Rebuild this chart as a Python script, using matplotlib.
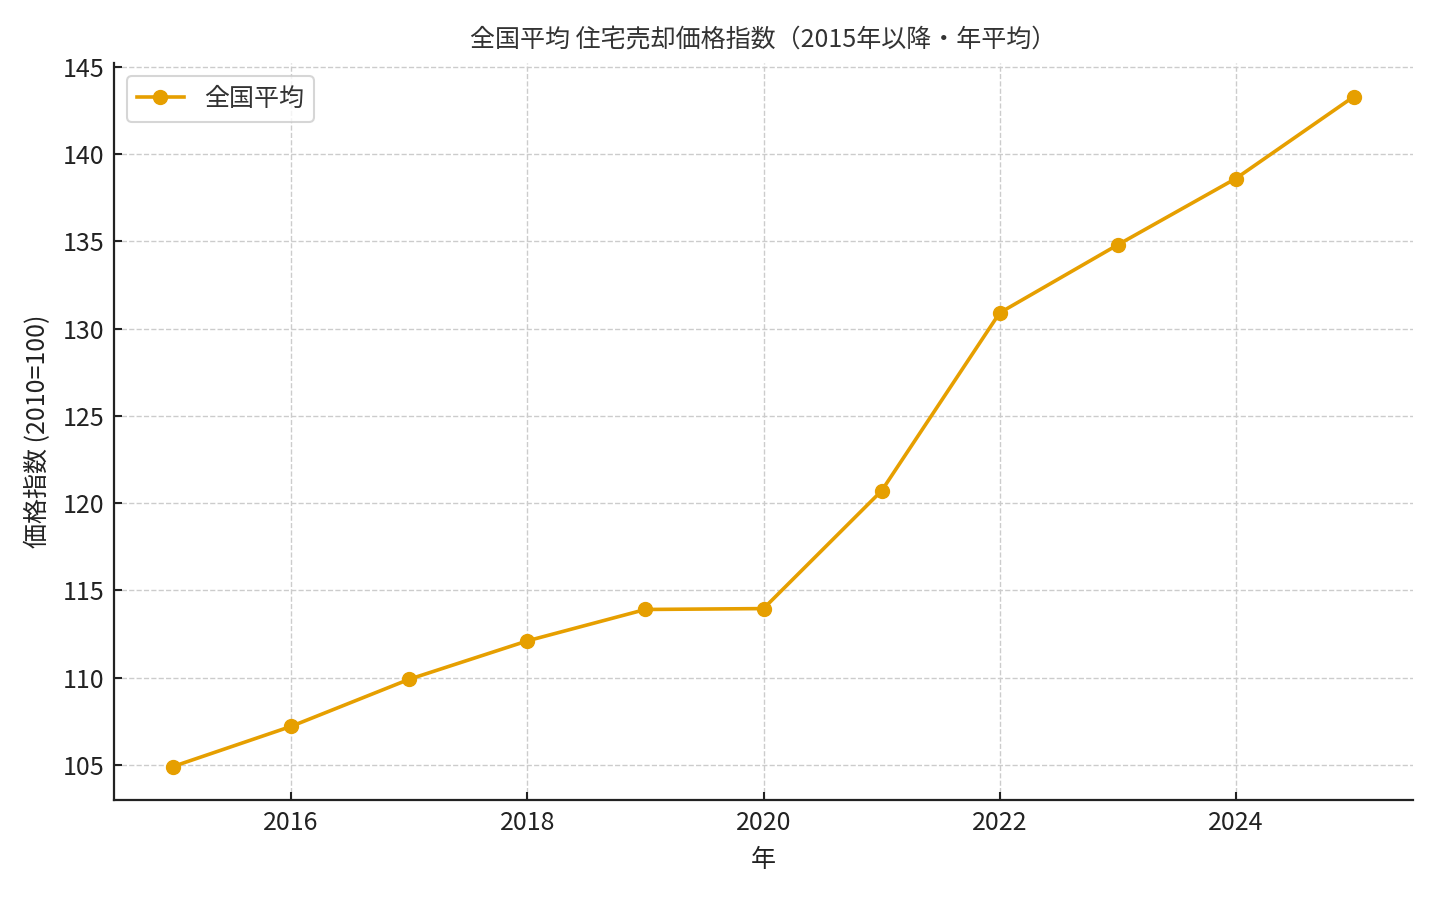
import matplotlib
matplotlib.use("Agg")
import matplotlib.pyplot as plt

years = [2015, 2016, 2017, 2018, 2019, 2020, 2021, 2022, 2023, 2024, 2025]
index_values = [104.9, 107.2, 109.9, 112.1, 113.9, 113.95, 120.7, 130.9, 134.8, 138.6, 143.3]
series_label = "全国平均"
title = "全国平均 住宅売却価格指数（2015年以降・年平均）"
xlabel = "年"
ylabel = "価格指数 (2010=100)"

plt.rcParams['font.family'] = ['Noto Sans CJK JP', 'DejaVu Sans']

fig = plt.figure(figsize=(14.4, 9), dpi=100)
ax = fig.add_axes([114/1440, 1-800/900, (1413-114)/1440, (800-63)/900])

ax.plot(years, index_values, color="#E69F00", lw=2.6, marker="o", ms=10, label=series_label)

ax.set_title(title, fontsize=18, color="#333333", pad=12)
ax.set_xlabel(xlabel, fontsize=18, color="#222222", labelpad=8)
ax.set_ylabel(ylabel, fontsize=18, color="#222222", labelpad=8)

ax.set_xticks([2016, 2018, 2020, 2022, 2024])
ax.set_yticks([105, 110, 115, 120, 125, 130, 135, 140, 145])
ax.tick_params(direction="in", labelsize=18, length=6, width=1.5, colors="#222222", pad=7)
ax.grid(True, linestyle="--", color="#cccccc", linewidth=1)
ax.set_axisbelow(True)
for s in ["top", "right"]:
    ax.spines[s].set_visible(False)
for s in ["left", "bottom"]:
    ax.spines[s].set_linewidth(1.6)
    ax.spines[s].set_color("#222222")

leg = ax.legend(loc="upper left", fontsize=18, frameon=True, fancybox=True, borderpad=0.4,
                handlelength=1.9)
leg.get_frame().set_edgecolor("#cccccc")
leg.get_frame().set_linewidth(1.5)
for t in leg.get_texts():
    t.set_color("#333333")

fig.savefig("out.png", dpi=100)
